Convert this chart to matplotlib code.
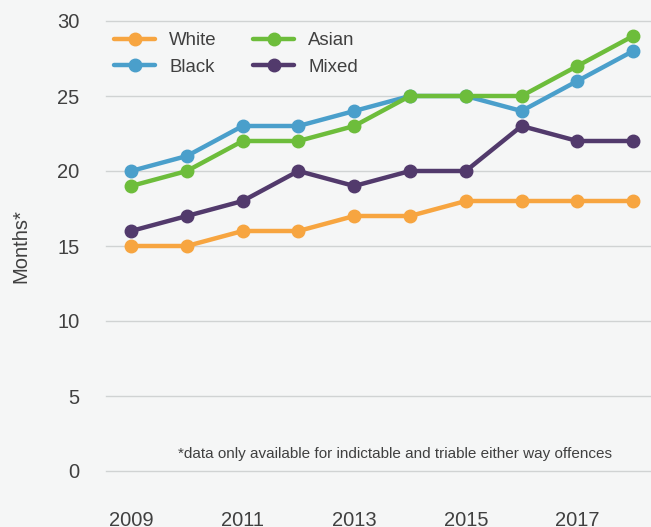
import matplotlib
matplotlib.use("Agg")
import matplotlib.pyplot as plt

plt.rcParams['font.family'] = ['Liberation Sans', 'DejaVu Sans']

years = [2009, 2010, 2011, 2012, 2013, 2014, 2015, 2016, 2017, 2018]
white = [15, 15, 16, 16, 17, 17, 18, 18, 18, 18]
black = [20, 21, 23, 23, 24, 25, 25, 24, 26, 28]
asian = [19, 20, 22, 22, 23, 25, 25, 25, 27, 29]
mixed = [16, 17, 18, 20, 19, 20, 20, 23, 22, 22]
xtick_years = [2009, 2011, 2013, 2015, 2017]
yticks = [0, 5, 10, 15, 20, 25, 30]
footnote = "*data only available for indictable and triable either way offences"

bg = "#f5f6f6"
text_col = "#404040"

fig = plt.figure(figsize=(6.51, 5.27), dpi=100, facecolor=bg)
ax = fig.add_axes([106 / 651, 56 / 527, 545 / 651, 450 / 527], facecolor=bg)

series = [
    ("White", white, "#f7a540"),
    ("Black", black, "#4a9fcb"),
    ("Asian", asian, "#6dbd3b"),
    ("Mixed", mixed, "#523a6c"),
]
for name, vals, col in series:
    ax.plot(years, vals, color=col, lw=3.2, marker="o", ms=9,
            label=name, clip_on=False, solid_capstyle="round")

ax.set_xlim(2008.55, 2018.32)
ax.set_ylim(0, 30)
ax.set_yticks(yticks)
ax.set_xticks(xtick_years)
ax.grid(axis="y", color="#d0d3d3", lw=1)
for gl in ax.get_ygridlines():
    gl.set_clip_on(False)
ax.set_axisbelow(True)
for s in ax.spines.values():
    s.set_visible(False)
ax.tick_params(axis="both", length=0, labelsize=14.5, colors=text_col)
ax.tick_params(axis="x", pad=29)
ax.tick_params(axis="y", pad=19)
ax.set_ylabel("Months*", fontsize=14.5, color=text_col, labelpad=19)

ax.text(2018.32 - 0.7, 1.15, footnote, ha="right", va="center",
        fontsize=11, color=text_col)

leg = ax.legend(ncol=2, loc="upper left", bbox_to_anchor=(-0.005, 1.0),
                frameon=False, fontsize=13.4, handlelength=2.2,
                handletextpad=0.75, columnspacing=1.95, labelspacing=0.5,
                labelcolor=text_col, borderaxespad=0.2)

fig.savefig("out.png", dpi=100, facecolor=bg)
